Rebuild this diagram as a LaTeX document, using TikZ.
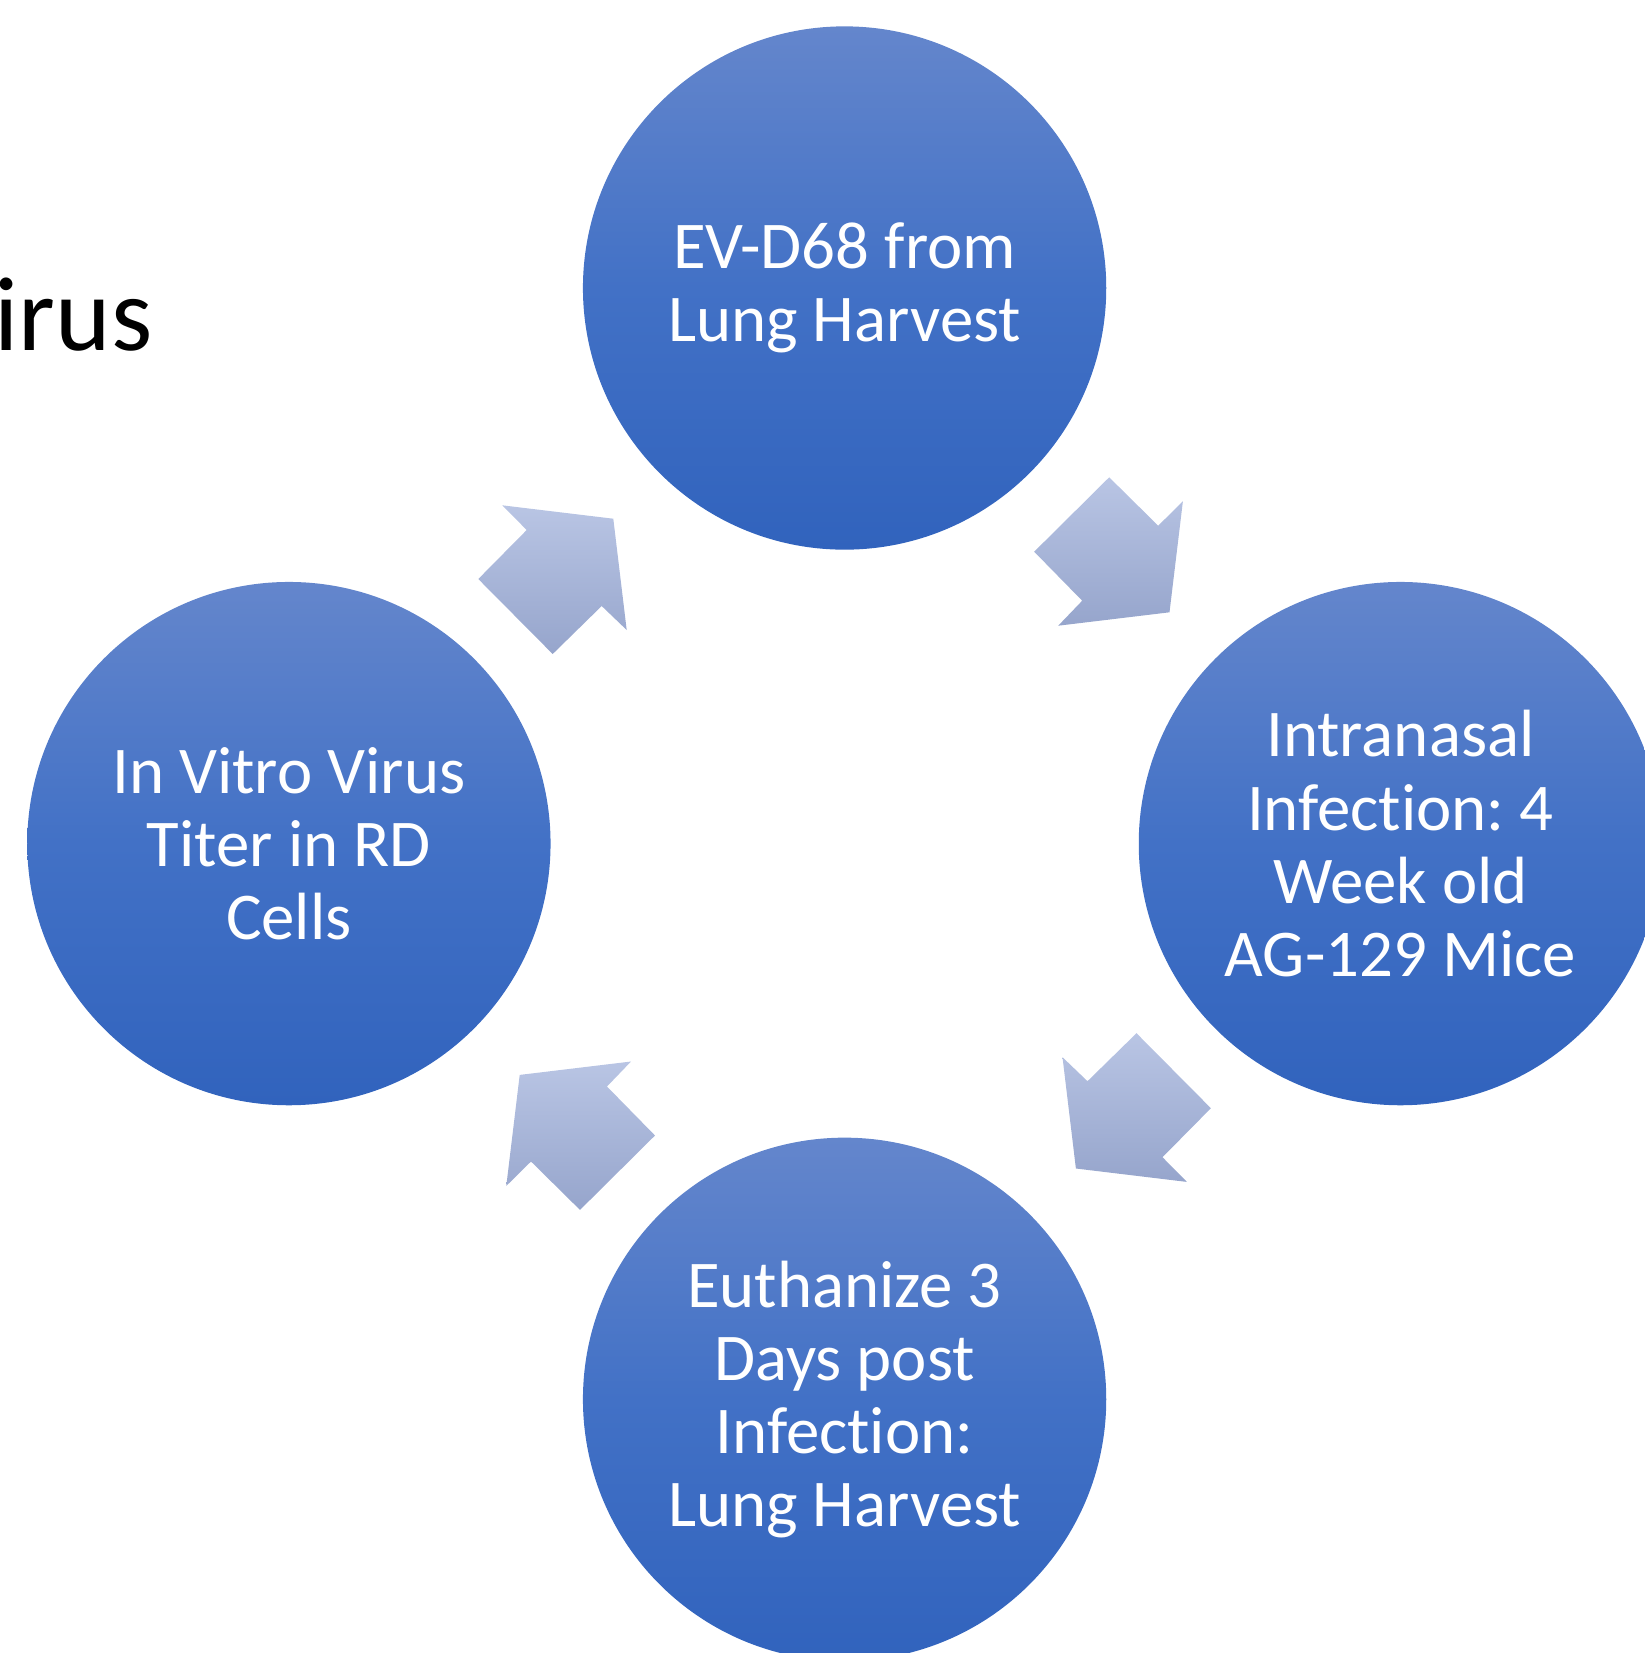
\documentclass[tikz,border=0pt]{standalone}
\usepackage{fontspec}
\setmainfont{Carlito}[Ligatures={NoCommon}]
\definecolor{circtop}{RGB}{100,134,204}
\definecolor{circmid}{RGB}{66,113,198}
\definecolor{circbot}{RGB}{49,99,189}
\definecolor{arrtop}{RGB}{185,197,228}
\definecolor{arrbot}{RGB}{150,165,204}
\begin{document}
\frenchspacing
\begin{tikzpicture}[x=0.01cm,y=-0.01cm,
  stage/.style={circle, minimum size=5.23cm, inner sep=0pt, top color=circtop,
    bottom color=circbot, middle color=circmid, draw=none, text=white,
    align=center, font=\fontsize{19pt}{20.8pt}\selectfont},
  cyclearrow/.style={top color=arrtop, bottom color=arrbot, draw=none}]
\useasboundingbox (0,0) rectangle (1645,1653);
% title fragment
\node[anchor=base west, inner sep=0pt, font=\fontsize{30pt}{36pt}\selectfont] (title) at (-6,350) {irus};
% stages
\node[stage] (s1) at (844.6,288) {EV-D68 from\\Lung Harvest};
\node[stage] (s2) at (1400.4,843.6) {Intranasal\\Infection: 4\\Week old\\AG-129 Mice};
\node[stage] (s3) at (844.6,1399.3) {Euthanize 3\\Days post\\Infection:\\Lung Harvest};
\node[stage] (s4) at (288.9,843.6) {In Vitro Virus\\Titer in RD\\Cells};
% cycle arrows
\path[cyclearrow] (502.3,505.3) -- (613.3,518.7) -- (626.7,630) -- (601.7,606) -- (552.7,654) -- (478.3,579) -- (526.7,530) -- cycle;
\path[cyclearrow] (1182.9,501.3) -- (1169.5,612.3) -- (1058.2,625.7) -- (1082.2,600.7) -- (1034.2,551.7) -- (1109.2,477.3) -- (1158.2,525.7) -- cycle;
\path[cyclearrow] (1186.9,1181.9) -- (1075.9,1168.5) -- (1062.5,1057.2) -- (1087.5,1081.2) -- (1136.5,1033.2) -- (1210.9,1108.2) -- (1162.5,1157.2) -- cycle;
\path[cyclearrow] (506.3,1185.9) -- (519.7,1074.9) -- (631.0,1061.5) -- (607.0,1086.5) -- (655.0,1135.5) -- (580.0,1209.9) -- (531.0,1161.5) -- cycle;
\end{tikzpicture}
\end{document}
